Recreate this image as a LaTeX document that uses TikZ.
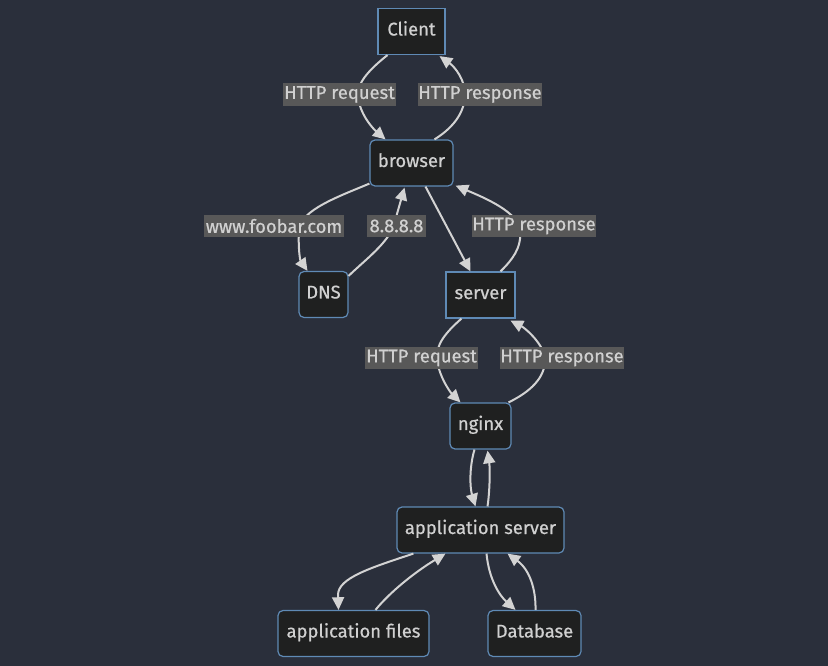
\documentclass[tikz,border=0pt]{standalone}
\usepackage{fontspec}
\setmainfont{Fira Sans}[FakeBold=0.6]
\usetikzlibrary{arrows.meta,calc}
\definecolor{bgc}{HTML}{2A2F3B}
\definecolor{nodefill}{HTML}{1F2020}
\definecolor{nodeline}{HTML}{5F8AB5}
\definecolor{txt}{HTML}{D0D0D0}
\definecolor{edgec}{HTML}{D3D3D3}
\definecolor{lblbg}{HTML}{585858}
\tikzset{
  box/.style={draw=nodeline, line width=0.9pt, fill=nodefill, text=txt,
    minimum height=34.5pt, inner sep=0pt, text height=10pt, text depth=4pt,
    font=\fontsize{13.8}{16}\selectfont},
  rbox/.style={box, rounded corners=3.75pt},
  lbl/.style={fill=lblbg, text=txt, inner xsep=0pt, inner ysep=0pt,
    minimum height=17pt, font=\fontsize{13.8}{16}\selectfont},
  conn/.style={draw=edgec, line width=1.5pt,
    -{Triangle[length=9.5pt,width=9pt]}},
}
\begin{document}
\begin{tikzpicture}[x=0.75pt,y=-0.75pt]
\useasboundingbox[fill=bgc] (0,0) rectangle (828,666);
% nodes
\node[box,  minimum width=50.25pt] (client) at (411.5,31.5) {Client};
\node[rbox, minimum width=62.25pt] (browser) at (411.5,163) {browser};
\node[rbox, minimum width=36.75pt] (dns) at (323.5,294.5) {DNS};
\node[box,  minimum width=51.75pt] (server) at (480.5,295) {server};
\node[rbox, minimum width=45.75pt] (nginx) at (480.5,426) {nginx};
\node[rbox, minimum width=125.25pt] (app) at (480.5,530) {application server};
\node[rbox, minimum width=113.25pt] (files) at (353.5,633.5) {application files};
\node[rbox, minimum width=69.75pt] (db) at (534.5,633.5) {Database};
% edges
\draw[conn] ($(client.south)+(-24,0)$) .. controls (366,72) and (358,84) .. (358,94)
   .. controls (358,110) and (370,126) .. ($(browser.north)+(-26,0)$);
\draw[conn] ($(browser.north)+(23,0)$) .. controls (456,126) and (465,110) .. (465,94)
   .. controls (465,80) and (455,67) .. ($(client.south)+(28,1)$);
\draw[conn] ($(browser.south west)+(0,-3)$) .. controls (340,196) and (300,210) .. (299,230)
   .. controls (298,248) and (300,260) .. ($(dns.north)+(-16,0)$);
\draw[conn] ($(dns.north east)+(0,5)$) .. controls (365,260) and (388,243) .. (394,225)
   .. controls (398,210) and (401,200) .. ($(browser.south)+(-7,1)$);
\draw[conn] ($(browser.south)+(14,0)$) -- ($(server.north)+(-10,0)$);
\draw[conn] ($(server.north)+(20,0)$) .. controls (512,260) and (522,248) .. (520,230)
   .. controls (518,212) and (485,198) .. ($(browser.south east)+(2,-1)$);
\draw[conn] ($(server.south)+(-19,0)$) .. controls (445,333) and (436,345) .. (437,358)
   .. controls (438,375) and (450,392) .. ($(nginx.north)+(-20,0)$);
\draw[conn] ($(nginx.north)+(28,0)$) .. controls (530,392) and (545,378) .. (545,360)
   .. controls (545,345) and (525,328) .. ($(server.south)+(30,2)$);
\draw[conn] ($(nginx.south)+(-6,0)$) .. controls (469,468) and (470,488) .. ($(app.north)+(-5,0)$);
\draw[conn] ($(app.north)+(7,0)$) .. controls (490,490) and (490,468) .. ($(nginx.south)+(7,1)$);
\draw[conn] ($(app.south west)+(17,0)$) .. controls (370,568) and (338,578) .. (338,595)
   -- ($(files.north)+(-15,0)$);
\draw[conn] ($(files.north)+(22,0)$) .. controls (390,592) and (415,572) .. ($(app.south)+(-35,0)$);
\draw[conn] ($(app.south)+(6,0)$) .. controls (489,580) and (500,596) .. ($(db.north)+(-19,0)$);
\draw[conn] ($(db.north)+(1,0)$) .. controls (536,590) and (530,570) .. ($(app.south)+(27,0)$);
% labels
\node[lbl, minimum width=84.75pt] (l1) at (339.5,94.5) {HTTP request};
\node[lbl, minimum width=91.5pt] (l2) at (480,94.5) {HTTP response};
\node[lbl, minimum width=105pt] (l3) at (274,226) {www.foobar.com};
\node[lbl, minimum width=44.25pt] (l4) at (396.5,226) {8.8.8.8};
\node[lbl, minimum width=91.5pt] (l5) at (534,226) {HTTP response};
\node[lbl, minimum width=84.75pt] (l6) at (421.5,358) {HTTP request};
\node[lbl, minimum width=91.5pt] (l7) at (562,358) {HTTP response};
\end{tikzpicture}
\end{document}
